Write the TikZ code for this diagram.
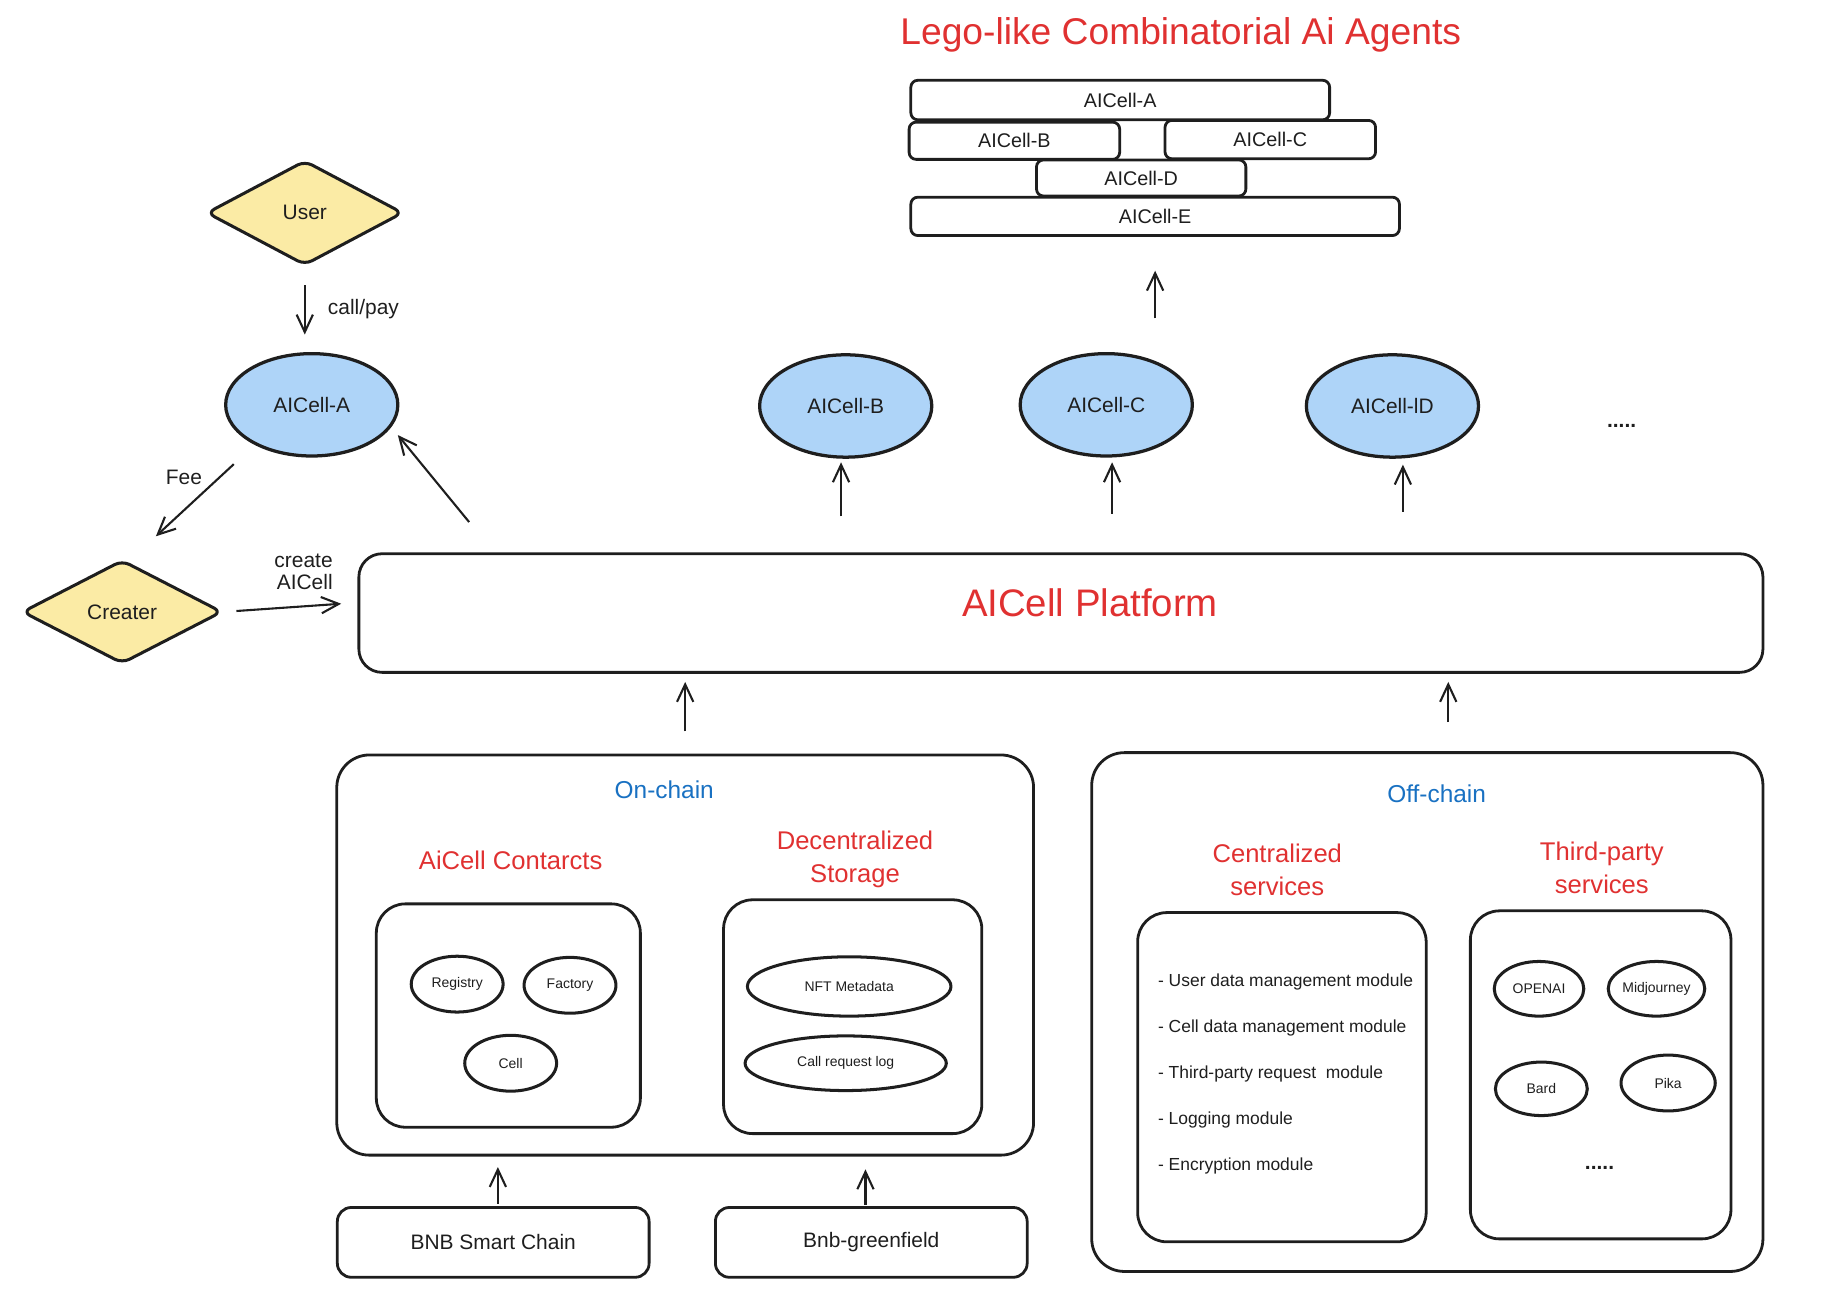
\documentclass[tikz,border=0pt]{standalone}
\usepackage{fontspec}
\setmainfont{Liberation Sans}
\usetikzlibrary{shapes.geometric,arrows.meta,calc}

\definecolor{inkblack}{HTML}{1E1E1E}
\definecolor{headred}{HTML}{E03131}
\definecolor{headblue}{HTML}{1971C2}
\definecolor{actorfill}{HTML}{FBEBA5}
\definecolor{cellfill}{HTML}{AED4F8}

\newcommand{\txtsz}[2]{\fontsize{#1}{#2}\selectfont}

\tikzset{
    arr/.style={-{Straight Barb[length=15pt,width=14pt]}, line width=1.8pt, draw=inkblack},
    actor/.style={diamond, draw=inkblack, fill=actorfill, line width=2.6pt,
        rounded corners=7pt, inner sep=0pt, font=\txtsz{18}{18}},
    agent/.style={ellipse, draw=inkblack, fill=cellfill, line width=2.8pt,
        minimum width=148pt, minimum height=88pt, inner sep=0pt, font=\txtsz{18}{18}},
    brick/.style={draw=inkblack, line width=2.4pt, rounded corners=6pt,
        inner sep=0pt, font=\txtsz{17}{17}},
    frame/.style={draw=inkblack, line width=2.4pt, rounded corners=28pt, inner sep=0pt},
    part/.style={ellipse, draw=inkblack, line width=2.6pt, inner sep=0pt,
        minimum width=79pt, minimum height=48pt, font=\txtsz{12}{12}},
    chain/.style={draw=inkblack, line width=2.4pt, rounded corners=12pt,
        minimum width=268pt, minimum height=60pt, font=\txtsz{18}{18}},
    heading/.style={text=headred, align=center, font=\txtsz{22}{28}},
    side/.style={text=headblue, font=\txtsz{21}{21}},
    lbl/.style={font=\txtsz{18}{19}, inner sep=1pt},
    dots/.style={font=\bfseries\txtsz{18}{18}},
}

\begin{document}
\begin{tikzpicture}[x=1pt, y=-1pt, line join=round, every node/.style={text=inkblack}]
    \useasboundingbox (0,0) rectangle (1568,1116);

    % stacked agents
    \node[text=headred, font=\txtsz{32}{32}] (title) at (1015,30) {Lego-like Combinatorial Ai Agents};
    \node[brick, minimum width=360pt, minimum height=34pt] (sA) at (963,86) {AICell-A};
    \node[brick, minimum width=181pt, minimum height=32pt] (sB) at (872,121) {AICell-B};
    \node[brick, minimum width=181pt, minimum height=33pt] (sC) at (1092,120) {AICell-C};
    \node[brick, minimum width=180pt, minimum height=31pt] (sD) at (981,153) {AICell-D};
    \node[brick, minimum width=420pt, minimum height=33pt] (sE) at (993,186) {AICell-E};

    % user side
    \node[actor, minimum width=169pt, minimum height=90pt] (user) at (262,183) {User};
    \node[actor, minimum width=172pt, minimum height=89pt] (creater) at (105,526) {Creater};

    \node[agent] (A) at (268,348) {AICell-A};
    \node[agent] (B) at (727,349) {AICell-B};
    \node[agent] (C) at (951,348) {AICell-C};
    \node[agent] (D) at (1197,349) {AICell-lD};
    \node[dots] (moreagents) at (1394,366) {.....};

    % platform
    \node[frame, rounded corners=20pt, minimum width=1207pt, minimum height=102pt] (plat) at (912,527) {};
    \node[text=headred, font=\txtsz{33}{33}] (platlbl) at (937,518) {AICell Platform};

    % on-chain
    \node[frame, minimum width=599pt, minimum height=344pt] (onchain) at (589,821) {};
    \node[side] (onlbl) at (571,679) {On-chain};
    \node[heading] (contractlbl) at (439,740) {AiCell Contarcts};
    \node[heading] (storagelbl) at (735,739) {Decentralized\\Storage};
    \node[frame, rounded corners=25pt, minimum width=227pt, minimum height=192pt] (contracts) at (437,873) {};
    \node[frame, rounded corners=25pt, minimum width=222pt, minimum height=201pt] (storage) at (733,874) {};
    \node[part] (registry) at (393,846) {Registry};
    \node[part] (factory) at (490,847) {Factory};
    \node[part] (cell) at (439,914) {Cell};
    \node[part, minimum width=175pt, minimum height=51pt] (nft) at (730,848) {NFT Metadata};
    \node[part, minimum width=173pt, minimum height=47pt] (calllog) at (727,914) {Call request log};

    \node[chain] (bnb) at (424,1068) {BNB Smart Chain};
    \node[chain] (greenfield) at (749,1068) {Bnb-greenfield};

    % off-chain
    \node[frame, minimum width=577pt, minimum height=446pt] (offchain) at (1227,870) {};
    \node[side] (offlbl) at (1235,682) {Off-chain};
    \node[heading] (centrallbl) at (1098,748) {Centralized\\services};
    \node[heading] (thirdlbl) at (1377,746) {Third-party\\services};
    \node[frame, rounded corners=25pt, minimum width=248pt, minimum height=283pt] (central) at (1102,926) {};
    \node[frame, rounded corners=25pt, minimum width=224pt, minimum height=282pt] (third) at (1376,924) {};
    \node[font=\txtsz{15}{39.5}, align=left, anchor=west] (modules) at (992,923)
        {- User data management module\\- Cell data management module\\- Third-party request\ \ module\\- Logging module\\- Encryption module};
    \node[part, minimum width=77pt, minimum height=47pt] (openai) at (1323,850) {OPENAI};
    \node[part, minimum width=81pt, minimum height=47pt] (midjourney) at (1424,850) {Midjourney};
    \node[part, minimum width=79pt, minimum height=46pt] (bard) at (1325,936) {Bard};
    \node[part, minimum width=81pt, minimum height=48pt] (pika) at (1434,931) {Pika};
    \node[dots] (moreapis) at (1375,1004) {.....};

    % arrows
    \draw[arr, shorten <=16pt, shorten >=15pt] (user.south) -- (user.south |- A.north)
        node[lbl, midway, right=18pt] {call/pay};
    \draw[arr] ($(A)+(-67,51)$) -- ($(creater)+(29,-65)$)
        node[lbl, pos=0.35, above left=2pt] {Fee};
    \draw[arr] ($(plat.north west)+(96,-26)$) -- ($(A)+(74,26)$);
    \draw[arr, shorten <=11pt] (creater.east) -- ($(plat.west)+(-14,-8)$)
        node[lbl, pos=0.68, above=12pt, align=right] {create\\AICell};
    \draw[arr, shorten <=31pt, shorten >=3pt] ([xshift=-4pt]B.south |- plat.north) -- ([xshift=-4pt]B.south);
    \draw[arr, shorten <=33pt, shorten >=4pt] ([xshift=5pt]C.south |- plat.north) -- ([xshift=5pt]C.south);
    \draw[arr, shorten <=35pt, shorten >=5pt] ([xshift=9pt]D.south |- plat.north) -- ([xshift=9pt]D.south);
    \draw[arr, shorten <=29pt, shorten >=29pt] (sE.south |- C.north) -- (sE.south);
    \draw[arr, shorten <=19pt, shorten >=7pt] (onchain.north) -- (onchain.north |- plat.south);
    \draw[arr, shorten <=25pt, shorten >=7pt] ([xshift=18pt]offchain.north) -- ([xshift=18pt]offchain.north |- plat.south);
    \draw[arr, shorten <=2pt, shorten >=9pt] ([xshift=4pt]bnb.north) -- ([xshift=4pt]bnb.north |- onchain.south);
    \draw[arr, shorten <=1pt, shorten >=11pt] ([xshift=-5pt]greenfield.north) -- ([xshift=-5pt]greenfield.north |- onchain.south);
\end{tikzpicture}
\end{document}
